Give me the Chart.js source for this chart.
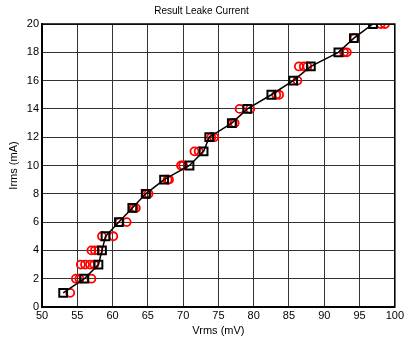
<!DOCTYPE html>
<html>
<head>
<meta charset="utf-8">
<script src="https://cdn.jsdelivr.net/npm/chart.js@4/dist/chart.umd.min.js"></script>
<style>
    body { margin: 0; background: #fff; }
    #wrap { width: 406px; height: 338px; }
</style>
</head>
<body>
<div id="wrap"><canvas id="myChart" width="406" height="338"></canvas></div>
<script>
// measured points (red circles)
var measVrms = [54.0,
    54.8, 55.3, 57.0,
    55.5, 56.1, 56.8, 57.4,
    57.0, 57.5, 58.0,
    58.5, 60.1,
    61.0, 62.0,
    63.0, 63.3,
    64.8, 65.1,
    67.8, 68.0,
    69.7, 70.0,
    71.6, 72.2,
    74.0, 74.4,
    77.0, 77.3,
    78.0, 79.5,
    83.2, 83.6,
    86.2,
    86.4, 87.1, 87.6,
    92.8, 93.2,
    94.3,
    98.0, 98.6];
var measIrms = [1,
    2, 2, 2,
    3, 3, 3, 3,
    4, 4, 4,
    5, 5,
    6, 6,
    7, 7,
    8, 8,
    9, 9,
    10, 10,
    11, 11,
    12, 12,
    13, 13,
    14, 14,
    15, 15,
    16,
    17, 17, 17,
    18, 18,
    19,
    20, 20];

// result line (black squares)
var resVrms = [53.0, 56.0, 58.0, 58.5, 59.0, 60.9, 62.8, 64.7, 67.3, 70.9,
    72.9, 73.7, 76.9, 79.1, 82.5, 85.6, 88.1, 92.0, 94.2, 96.9];
var resIrms = [1, 2, 3, 4, 5, 6, 7, 8, 9, 10, 11, 12, 13, 14, 15, 16, 17, 18, 19, 20];

function toPoints(xs, ys) {
    var pts = [];
    xs.forEach(function (x, i) {
        pts.push({ x: x, y: ys[i] });
    });
    return pts;
}

// box round the plot area
var boxPlugin = {
    id: "box",
    afterDraw: function (chart) {
        var a = chart.chartArea;
        var ctx = chart.ctx;
        ctx.save();
        ctx.strokeStyle = "#000";
        ctx.lineWidth = 1.5;
        ctx.strokeRect(a.left, a.top, a.right - a.left, a.bottom - a.top);
        ctx.restore();
    },
};

Chart.defaults.font.family = "'Liberation Sans', Arial, sans-serif";
Chart.defaults.color = "#000";

var ctx = document.getElementById("myChart").getContext("2d");
var myChart = new Chart(ctx, {
    type: "scatter",
    data: {
        datasets: [
            {
                label: "Result",
                data: toPoints(resVrms, resIrms),
                showLine: true,
                borderColor: "#000",
                borderWidth: 1.5,
                pointStyle: "rect",
                pointRadius: 5.5,
                pointBorderWidth: 2,
                pointBorderColor: "#000",
                pointBackgroundColor: "rgba(0,0,0,0)",
                order: 0,
            },
            {
                label: "Measured",
                data: toPoints(measVrms, measIrms),
                showLine: false,
                pointStyle: "circle",
                pointRadius: 4,
                pointBorderWidth: 1.8,
                pointBorderColor: "#ff0000",
                pointBackgroundColor: "rgba(0,0,0,0)",
                order: 1,
            },
        ],
    },
    options: {
        responsive: false,
        animation: false,
        layout: { padding: { top: 2, right: 10, left: 7, bottom: 0 } },
        plugins: {
            legend: { display: false },
            tooltip: { enabled: false },
            title: {
                display: true,
                text: "Result Leake Current",
                font: { size: 10, weight: "normal" },
                padding: { top: 3, bottom: 7 },
            },
        },
        scales: {
            x: {
                type: "linear",
                min: 50,
                max: 100,
                ticks: { stepSize: 5, font: { size: 11 }, padding: 2, maxRotation: 0 },
                grid: { color: "#333", lineWidth: 1, tickLength: 0 },
                border: { color: "#000", width: 2 },
                title: { display: true, text: "Vrms (mV)", font: { size: 11 }, padding: 0 },
                afterFit: function (s) { s.height = 31; },
            },
            y: {
                type: "linear",
                min: 0,
                max: 20,
                ticks: { stepSize: 2, font: { size: 11 }, padding: 3 },
                grid: { color: "#333", lineWidth: 1, tickLength: 0 },
                border: { color: "#000", width: 2 },
                title: { display: true, text: "Irms (mA)", font: { size: 11 }, padding: 0 },
                afterFit: function (s) { s.width = 35; },
            },
        },
    },
    plugins: [boxPlugin],
});
</script>
</body>
</html>
